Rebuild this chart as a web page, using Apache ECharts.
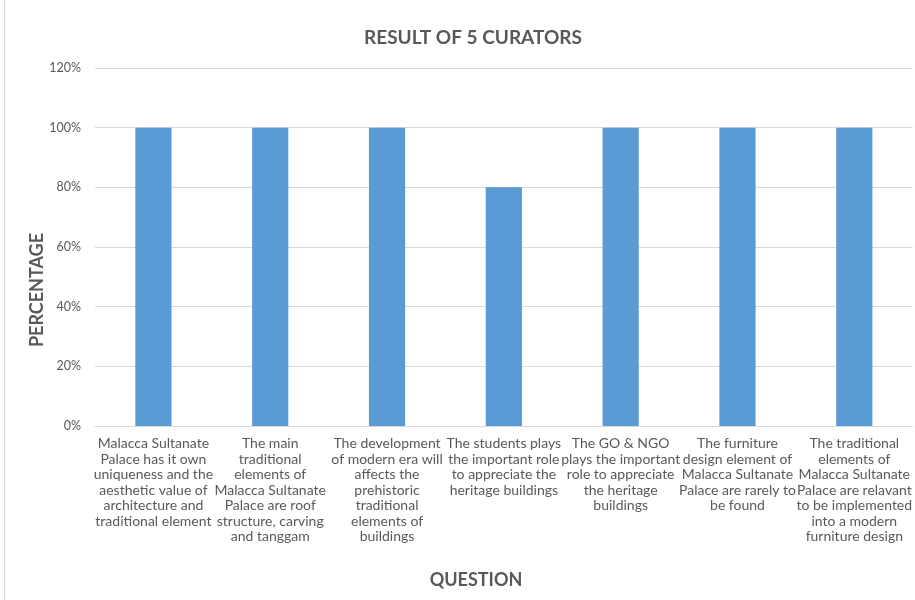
<!DOCTYPE html>
<html><head><meta charset="utf-8">
<script src="https://cdn.jsdelivr.net/npm/echarts@6/dist/echarts.min.js"></script>
<style>html,body{margin:0;padding:0;background:#fff}#c{width:915px;height:600px}</style>
</head><body><div id="c"></div>
<script>
const categories = [
  "Malacca Sultanate\nPalace has it own\nuniqueness and the\naesthetic value of\narchitecture and\ntraditional element",
  "The main\ntraditional\nelements of\nMalacca Sultanate\nPalace are roof\nstructure, carving\nand tanggam",
  "The development\nof modern era will\naffects the\nprehistoric\ntraditional\nelements of\nbuildings",
  "The students plays\nthe important role\nto appreciate the\nheritage buildings",
  "The GO & NGO\nplays the important\nrole to appreciate\nthe heritage\nbuildings",
  "The furniture\ndesign element of\nMalacca Sultanate\nPalace are rarely to\nbe found",
  "The traditional\nelements of\nMalacca Sultanate\nPalace are relavant\nto be implemented\ninto a modern\nfurniture design"
];
const percentages = [100, 100, 100, 80, 100, 100, 100];
const yTicks = { min: 0, max: 120, interval: 20 };

const chart = echarts.init(document.getElementById('c'));
const font = "Lato, 'Open Sans', sans-serif";
chart.setOption({
  animation: false,
  title: {
    text: 'RESULT OF 5 CURATORS', left: 359, top: 23,
    textStyle: { fontFamily: font, fontSize: 19, fontWeight: 'bold', color: '#595959' }
  },
  grid: { left: 95, right: 1, top: 68, bottom: 174, containLabel: false },
  xAxis: {
    type: 'category', data: categories,
    axisLine: { lineStyle: { color: '#d9d9d9' } },
    axisTick: { show: false },
    axisLabel: { interval: 0, fontFamily: font, fontSize: 14, color: '#595959', lineHeight: 15.5, margin: 10 }
  },
  yAxis: {
    type: 'value', min: yTicks.min, max: yTicks.max, interval: yTicks.interval,
    axisLine: { show: false }, axisTick: { show: false },
    axisLabel: { formatter: '{value}%', fontFamily: font, fontSize: 12.5, color: '#595959', margin: 14 },
    splitLine: { lineStyle: { color: '#d9d9d9' } }
  },
  series: [{
    type: 'bar', data: percentages, barWidth: '31%',
    itemStyle: { color: '#5b9bd5' }
  }],
  graphic: [
    { type: 'line', shape: { x1: 4.5, y1: 0, x2: 4.5, y2: 600 }, style: { stroke: '#d9d9d9', lineWidth: 1 } },
    { type: 'text', x: 37, y: 290, rotation: Math.PI / 2,
      style: { text: 'PERCENTAGE', font: "bold 18px " + font, fill: '#595959', align: 'center', verticalAlign: 'middle' } },
    { type: 'text', x: 476, y: 580,
      style: { text: 'QUESTION', font: "bold 18px " + font, fill: '#595959', align: 'center', verticalAlign: 'middle' } }
  ]
});
</script></body></html>
